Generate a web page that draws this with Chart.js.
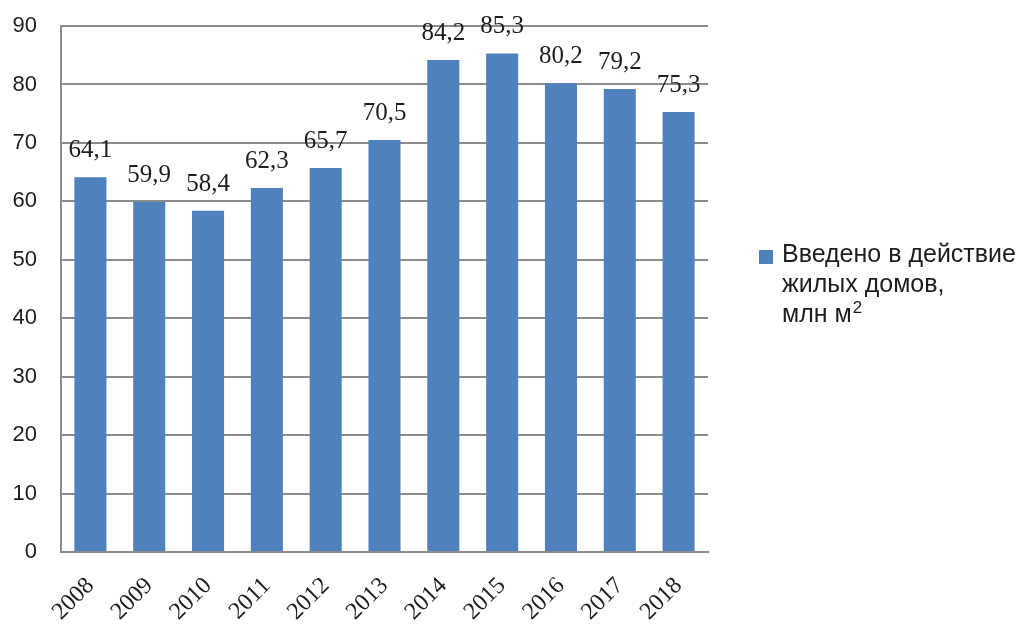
<!DOCTYPE html>
<html lang="ru">
<head>
<meta charset="utf-8">
<title>Введено в действие жилых домов</title>
<script src="https://cdn.jsdelivr.net/npm/chart.js"></script>
<style>
  html, body { margin: 0; padding: 0; background: #fff; }
  #wrap { width: 1027px; height: 625px; position: relative; }
</style>
</head>
<body>
<div id="wrap"><canvas id="myChart" width="1027" height="625"></canvas></div>
<script>
  // data
  const years = ['2008', '2009', '2010', '2011', '2012', '2013', '2014', '2015', '2016', '2017', '2018'];
  const housing = [64.1, 59.9, 58.4, 62.3, 65.7, 70.5, 84.2, 85.3, 80.2, 79.2, 75.3];
  const seriesName = ['Введено в действие', 'жилых домов,', 'млн м'];
  const unitPower = '2';
  const barColor = '#4F81BD';
  const gridColor = '#8c8c8c';
  const textColor = '#1e1e1e';

  // value labels above each bar, comma as decimal sign
  const valueLabels = {
    id: 'valueLabels',
    afterDatasetsDraw(chart) {
      const c = chart.ctx;
      const meta = chart.getDatasetMeta(0);
      c.save();
      c.font = '25px "Liberation Serif", "Times New Roman", serif';
      c.fillStyle = textColor;
      c.textAlign = 'center';
      c.textBaseline = 'alphabetic';
      meta.data.forEach((bar, i) => {
        c.fillText(housing[i].toFixed(1).replace('.', ','), bar.x, bar.y - 20);
      });
      c.restore();
    }
  };

  // legend on the right, wrapped over three lines, with m^2
  const sideLegend = {
    id: 'sideLegend',
    afterDraw(chart) {
      const c = chart.ctx;
      c.save();
      c.fillStyle = barColor;
      c.fillRect(759, 250, 14, 14);
      c.fillStyle = textColor;
      c.font = '25px "Liberation Sans", Arial, sans-serif';
      c.textAlign = 'left';
      c.textBaseline = 'alphabetic';
      let y = 262;
      seriesName.forEach((line, i) => {
        c.fillText(line, 782, y);
        if (i === seriesName.length - 1) {
          const w = c.measureText(line).width;
          c.font = '17px "Liberation Sans", Arial, sans-serif';
          c.fillText(unitPower, 782 + w + 1, y - 9);
        }
        y += 30;
      });
      c.restore();
    }
  };

  const ctx = document.getElementById('myChart').getContext('2d');
  const myChart = new Chart(ctx, {
    type: 'bar',
    data: {
      labels: years,
      datasets: [{
        label: seriesName.join(' ') + unitPower,
        data: housing,
        backgroundColor: barColor,
        barPercentage: 0.545,
        categoryPercentage: 1.0
      }]
    },
    options: {
      responsive: false,
      animation: false,
      layout: { padding: { top: 26, right: 319, left: 0, bottom: 0 } },
      plugins: {
        legend: { display: false },
        tooltip: { enabled: false }
      },
      scales: {
        x: {
          grid: { display: false, drawTicks: false },
          border: { color: gridColor, width: 2 },
          ticks: {
            color: textColor,
            font: { family: '"Liberation Serif", "Times New Roman", serif', size: 24 },
            maxRotation: 45,
            minRotation: 45,
            padding: 20
          },
          afterFit(scale) {
            scale.height = 73;
            scale.paddingLeft = 0;
            scale.paddingRight = 0;
          }
        },
        y: {
          min: 0,
          max: 90,
          grid: { color: gridColor, lineWidth: 2, drawTicks: false },
          border: { color: gridColor, width: 2 },
          ticks: {
            stepSize: 10,
            color: textColor,
            font: { family: '"Liberation Sans", Arial, sans-serif', size: 22 },
            padding: 24
          },
          afterFit(scale) {
            scale.width = 61;
            scale.paddingTop = 0;
            scale.paddingBottom = 0;
          }
        }
      }
    },
    plugins: [valueLabels, sideLegend]
  });
</script>
</body>
</html>
